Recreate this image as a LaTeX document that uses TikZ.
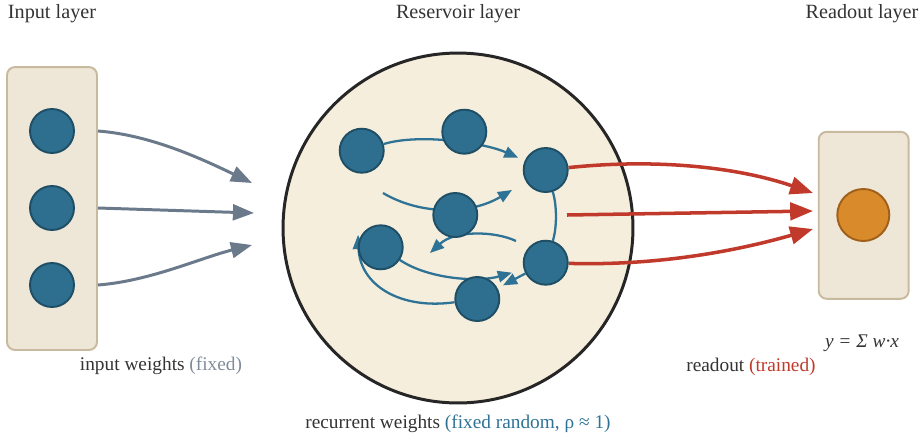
\documentclass[tikz,border=0pt]{standalone}
\usepackage{fontspec}
\setmainfont{Liberation Serif}
\usepackage{xcolor}
\usepackage{tikz}
\usetikzlibrary{positioning,%
  arrows.meta,%
  calc
}
\definecolor{cellblue}{HTML}{2E6E8E}
\definecolor{cellrim}{HTML}{1F4F66}
\definecolor{linkblue}{HTML}{2E7396}
\definecolor{ingray}{HTML}{6B7A8A}
\definecolor{fixgray}{HTML}{7F8C99}
\definecolor{outred}{HTML}{C0392B}
\definecolor{outorange}{HTML}{D98A2B}
\definecolor{outrim}{HTML}{A0601A}
\definecolor{boxfill}{HTML}{EEE6D6}
\definecolor{boxrim}{HTML}{C8BA9E}
\definecolor{resfill}{HTML}{F5EEDC}
\definecolor{txt}{HTML}{333333}
\pgfdeclarelayer{bg}
\pgfdeclarelayer{mid}
\pgfsetlayers{bg,mid,main}

\begin{document}
\begin{tikzpicture}
                    [x=0.02cm, y=-0.02cm,
                    layerbox/.style={rectangle,
                        rounded corners=0.16cm,
                        minimum width=1.8cm,
                        fill=boxfill, draw=boxrim, line width=1.1pt},
                    pool/.style={circle,
                        minimum size=7cm,
                        fill=resfill, draw=black!85, line width=1.7pt},
                    neuron/.style={circle,
                        minimum size=0.88cm, inner sep=0pt,
                        fill=cellblue, draw=cellrim, line width=1.1pt},
                    outcell/.style={circle,
                        minimum size=1.04cm, inner sep=0pt,
                        fill=outorange, draw=outrim, line width=1.1pt},
                    inlink/.style={draw=ingray, line width=1.7pt,
                        -{Triangle[length=12pt,width=9pt]}},
                    reclink/.style={draw=linkblue, line width=1.3pt,
                        -{Triangle[length=8pt,width=6.5pt]}},
                    outlink/.style={draw=outred, line width=2pt,
                        -{Triangle[length=13pt,width=10pt]}},
                    head/.style={text=txt, font=\fontsize{11.5}{14}\selectfont},
                    lbl/.style={text=txt, font=\fontsize{11}{13}\selectfont}]

                    \useasboundingbox (0,0) rectangle (923,444);

                    \begin{pgfonlayer}{bg}
                    \node[layerbox, minimum height=5.66cm] at (52,208.5)
                        (inbox) {};
                    \node[layerbox, minimum height=3.34cm] at (863.7,215.3)
                        (outbox) {};
                    \node[pool] at (458,228)
                        (res) {};
                    \end{pgfonlayer}

                    \node[neuron] at (52,131) (i1) {};
                    \node[neuron] at (52,208) (i2) {};
                    \node[neuron] at (52,285) (i3) {};

                    \node[neuron] at (361.7,150.7) (ra) {};
                    \node[neuron] at (464.3,131.7) (rb) {};
                    \node[neuron] at (545.7,170) (rc) {};
                    \node[neuron] at (455.3,215) (rd) {};
                    \node[neuron] at (380.7,247.3) (re) {};
                    \node[neuron] at (545.7,262.7) (rf) {};
                    \node[neuron] at (477.3,299) (rg) {};

                    \node[outcell] at (863.3,215) (y) {};

                    \coordinate (in1) at (252,183);
                    \coordinate (in2) at (254,213);
                    \coordinate (in3) at (252,245);
                    \coordinate (s1) at (383,193);
                    \coordinate (t1) at (512,190);
                    \coordinate (s2) at (516,241);
                    \coordinate (t2) at (430,253);
                    \coordinate (t3) at (358,235);
                    \coordinate (s3) at (567,215);
                    \coordinate (o1) at (813,193);
                    \coordinate (o2) at (813,211);
                    \coordinate (o3) at (813,229);

                    \begin{pgfonlayer}{mid}
                    \draw[inlink] (inbox.east |- i1) .. controls (150,135) and (200,158) .. (in1);
                    \draw[inlink] (inbox.east |- i2) -- (in2);
                    \draw[inlink] (inbox.east |- i3) .. controls (150,281) and (200,258) .. (in3);

                    \draw[reclink, shorten >=4pt] (ra) .. controls (420,133) and (485,143) .. (rc);
                    \draw[reclink] (s1) .. controls (420,215) and (470,215) .. (t1);
                    \draw[reclink, -] (rc) .. controls (557,205) and (557,228) .. (rf);
                    \draw[reclink] (s2) .. controls (495,231) and (455,230) .. (t2);
                    \draw[reclink, shorten >=7pt] (re) .. controls (430,280) and (480,282) .. (rf);
                    \draw[reclink, shorten >=3.5pt] (rf) -- (rg);
                    \draw[reclink] (rg) .. controls (400,310) and (360,285) .. (t3);

                    \draw[outlink] (rc) .. controls (660,158) and (740,168) .. (o1);
                    \draw[outlink] (s3) -- (o2);
                    \draw[outlink] (rf) .. controls (660,266) and (740,250) .. (o3);
                    \end{pgfonlayer}

                    \node[head] at (52,14) (hin) {Input layer};
                    \node[head] at (458,14) (hres) {Reservoir layer};
                    \node[head] at (862,14) (hout) {Readout layer};
                    \node[lbl] at (161,366) (win)
                        {input weights \textcolor{fixgray}{(fixed)}};
                    \node[lbl] at (862,343) (eq) {\textit{y = Σ w·x}};
                    \node[lbl] at (751,367) (wout)
                        {readout \textcolor{outred}{(trained)}};
                    \node[lbl] at (458,424) (wres)
                        {recurrent weights \textcolor{linkblue}{(fixed random, ρ ≈ 1)}};
                \end{tikzpicture}
\end{document}
